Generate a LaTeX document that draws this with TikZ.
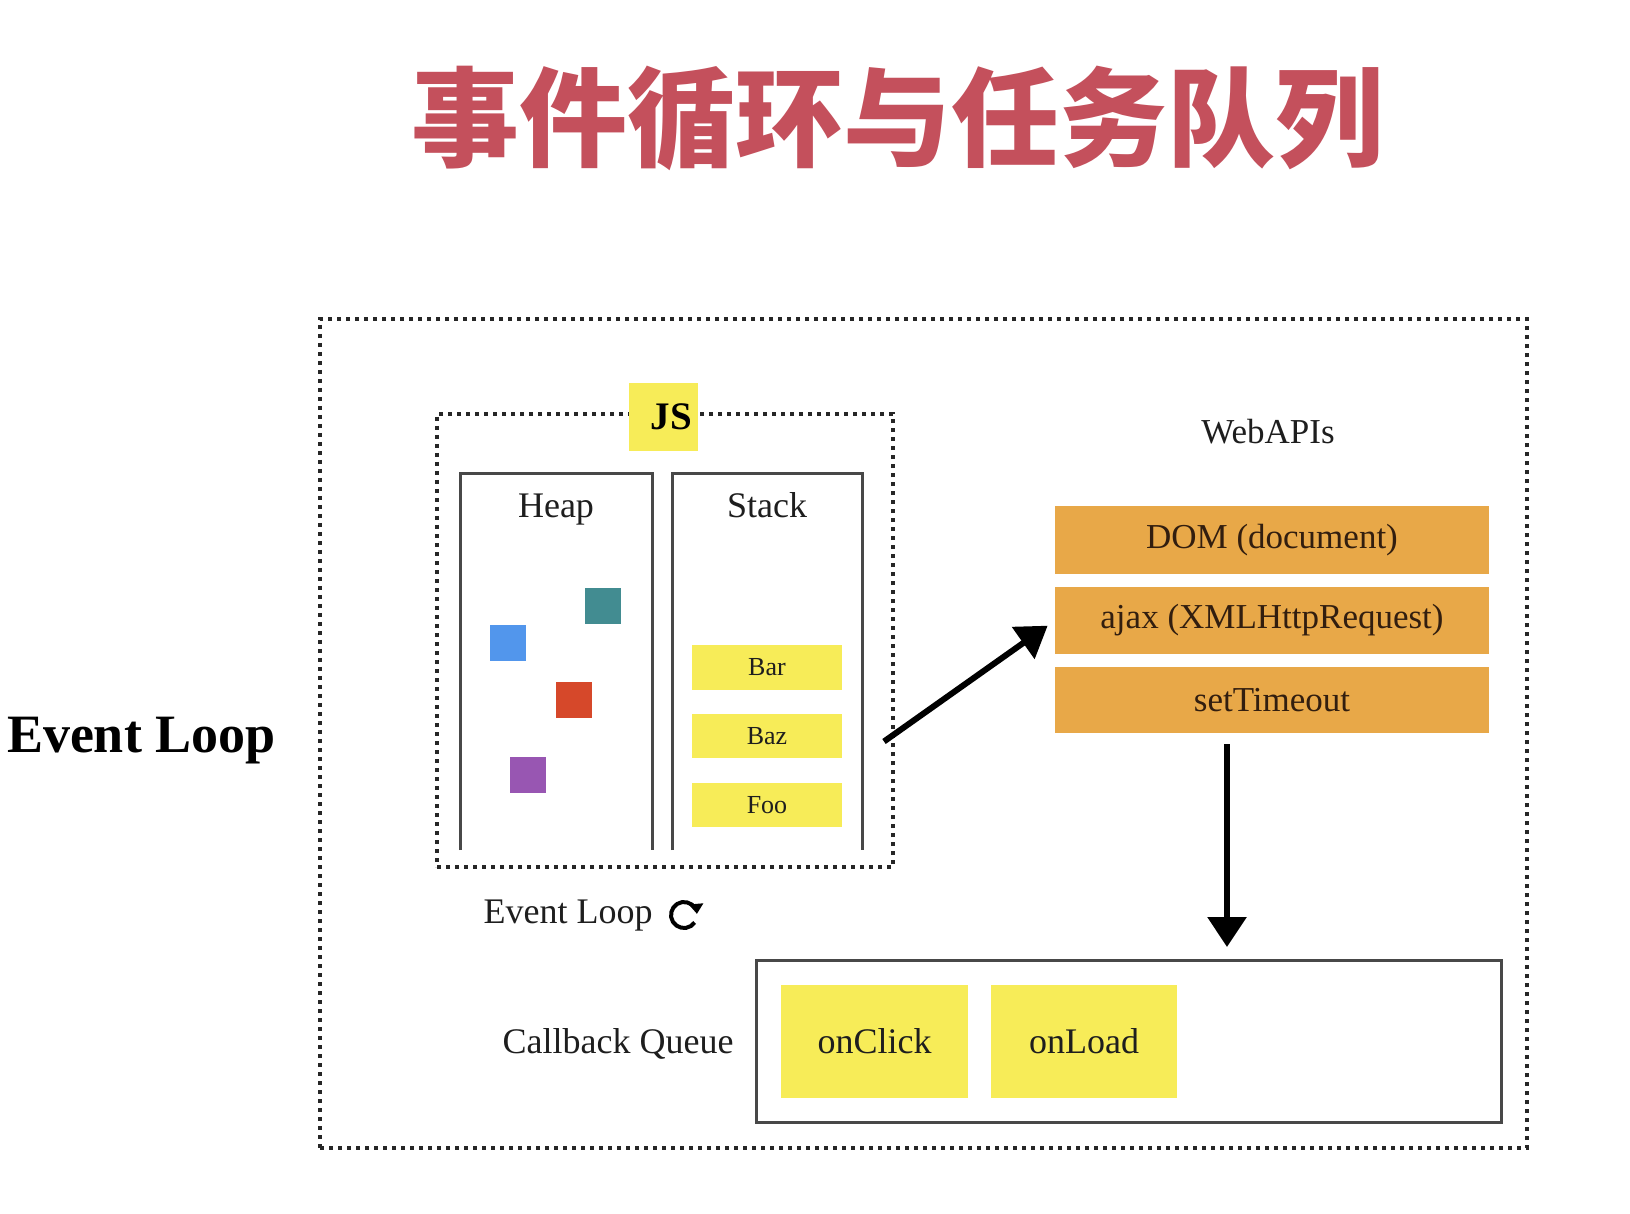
\documentclass[tikz,border=0pt]{standalone}
\usepackage{fontspec}
\setmainfont{Liberation Serif}
\newfontfamily\cjk{Noto Sans CJK SC}
\usetikzlibrary{arrows.meta,calc}
\definecolor{titlered}{RGB}{196,80,92}
\definecolor{ylw}{RGB}{247,236,88}
\definecolor{orng}{RGB}{232,168,72}
\definecolor{tealsq}{RGB}{66,140,145}
\definecolor{bluesq}{RGB}{82,150,236}
\definecolor{redsq}{RGB}{214,72,42}
\definecolor{purpsq}{RGB}{152,86,178}
\definecolor{linegray}{RGB}{72,72,72}
\definecolor{txt}{RGB}{30,30,30}
\definecolor{otxt}{RGB}{50,30,15}
\tikzset{
  every node/.style={inner sep=0pt, outer sep=0pt, text=txt},
  dotbox/.style={draw=black!85, line width=4pt, dash pattern=on 4pt off 5pt},
  panel/.style={draw=linegray, line width=3pt},
  stackitem/.style={fill=ylw, minimum width=150pt, minimum height=44pt, font=\fontsize{26}{26}\selectfont},
  apibox/.style={fill=orng, minimum width=434pt, minimum height=67pt, text=otxt, font=\fontsize{35}{35}\selectfont},
  cbitem/.style={fill=ylw, minimum height=113pt, font=\fontsize{36}{36}\selectfont},
  heapsq/.style={minimum size=36pt},
  label/.style={font=\fontsize{36}{36}\selectfont, anchor=base},
  bigarrow/.style={line width=6pt, -{Triangle[width=38pt,length=30pt]}},
}
\begin{document}
\begin{tikzpicture}[x=1pt,y=1pt]
\useasboundingbox[fill=white] (0,0) rectangle (1630,-1214);
% title
\node[text=titlered, font=\cjk\bfseries\fontsize{108}{108}\selectfont] (title) at (897,-118) {事件循环与任务队列};
% left label
\node[anchor=base west, font=\bfseries\fontsize{54}{54}\selectfont, text=black] (evl) at (7,-752) {Event Loop};
% outer dotted box
\node[dotbox, minimum width=1207pt, minimum height=829pt] (outer) at (923.5,-733.5) {};
% JS dotted box
\node[dotbox, minimum width=456pt, minimum height=453pt] (js) at (665,-640.5) {};
\node[fill=ylw, minimum width=69pt, minimum height=68pt, font=\bfseries\fontsize{39}{39}\selectfont, text=black] (jslabel) at (663.5,-417) {\kern16pt JS};
% heap and stack panels
\draw[panel] (460,-850) -- (460,-473) -- (652,-473) -- (652,-850);
\draw[panel] (672,-850) -- (672,-473) -- (862,-473) -- (862,-850);
\node[label] (heap) at (556,-517) {Heap};
\node[label] (stack) at (767,-517) {Stack};
% heap objects
\node[heapsq, fill=tealsq] (sq1) at (602.5,-606) {};
\node[heapsq, fill=bluesq] (sq2) at (507.5,-643) {};
\node[heapsq, fill=redsq] (sq3) at (573.5,-699.5) {};
\node[heapsq, fill=purpsq] (sq4) at (528,-775) {};
% stack frames
\node[stackitem, minimum height=45pt] (bar) at (767,-667.5) {Bar};
\node[stackitem] (baz) at (767,-736) {Baz};
\node[stackitem] (foo) at (767,-805) {Foo};
% event loop label
\node[label] (evlsmall) at (568,-923) {Event Loop};
\coordinate (loopc) at (684,-915);
\draw[line width=4pt, -{Triangle[width=14pt,length=10pt]}] ($(loopc)+(-35:13)$) arc[start angle=-35, end angle=-355, radius=13];
% web APIs
\node[label, font=\fontsize{35}{35}\selectfont] (webapis) at (1268,-443) {WebAPIs};
\node[apibox, minimum height=68pt] (dom) at (1272,-540) {DOM (document)};
\node[apibox] (ajax) at (1272,-620.5) {ajax (XMLHttpRequest)};
\node[apibox, minimum height=66pt] (settimeout) at (1272,-700) {setTimeout};
% callback queue
\node[panel, minimum width=745pt, minimum height=162pt] (cbq) at (1128.5,-1041) {};
\node[label] (cbqlabel) at (618,-1053) {Callback Queue};
\node[cbitem, minimum width=187pt] (onclick) at (874.5,-1041.5) {onClick};
\node[cbitem, minimum width=186pt] (onload) at (1084,-1041.5) {onLoad};
% connectors
\draw[bigarrow, shorten >=9pt] ([xshift=-9pt,yshift=-101pt]js.east) -- (ajax.west);
\draw[bigarrow, shorten <=11pt, shorten >=13pt] ([xshift=-45pt]settimeout.south) -- ([xshift=-45pt]settimeout.south |- cbq.north);
\end{tikzpicture}
\end{document}
